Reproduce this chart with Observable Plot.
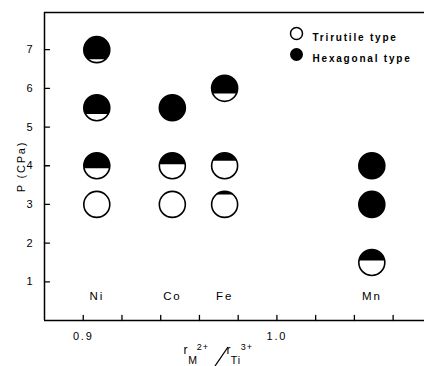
<!DOCTYPE html>
<html><head><meta charset="utf-8">
<script src="https://cdn.jsdelivr.net/npm/d3@7"></script>
<script src="https://cdn.jsdelivr.net/npm/@observablehq/plot@0.6"></script>
<style>
body{margin:0;background:#fff}
#chart svg{display:block;overflow:visible}
#chart text{letter-spacing:1.8px;fill:black}
</style>
</head><body><div id="chart"></div>
<script>
// ---- data ----
const metals = ["Ni", "Co", "Fe", "Mn"];
const radiusRatio = [0.907, 0.946, 0.973, 1.049];
const pointMetal = ["Ni","Ni","Ni","Ni","Co","Co","Co","Fe","Fe","Fe","Mn","Mn","Mn"];
const pressure   = [7, 5.5, 4, 3, 5.5, 4, 3, 6, 4, 3, 4, 3, 1.5];
const hexFraction = [0.87, 0.74, 0.6, 0, 1, 0.44, 0, 0.70, 0.31, 0.12, 1, 1, 0.42];
const yTicks = [1, 2, 3, 4, 5, 6, 7];
const xMinorTicks = [0.90, 0.92, 0.94, 0.96, 0.98, 1.00, 1.02, 1.04, 1.06];
const xLabelTicks = [0.9, 1.0];
const legendLabels = ["Trirutile type", "Hexagonal type"];
const xDomain = [0.88, 1.0762];
const yDomain = [0, 7.96];

const ratioOf = Object.fromEntries(metals.map((m, i) => [m, radiusRatio[i]]));
const points = pressure.map((p, i) => ({metal: pointMetal[i], ratio: ratioOf[pointMetal[i]], p, f: hexFraction[i]}));

// circular segment filled from the top down to fraction f of the diameter
function capSymbol(f) {
  return {
    draw(ctx, size) {
      const r = Math.sqrt(size / Math.PI);
      if (f <= 0) return;
      if (f >= 1) { ctx.moveTo(r, 0); ctx.arc(0, 0, r, 0, 2 * Math.PI); ctx.closePath(); return; }
      const y0 = -r + 2 * r * f;
      const w = Math.sqrt(Math.max(0, r * r - y0 * y0));
      let a1 = Math.atan2(y0, -w), a2 = Math.atan2(y0, w);
      if (a2 <= a1) a2 += 2 * Math.PI;
      ctx.moveTo(-w, y0);
      ctx.arc(0, 0, r, a1, a2);
      ctx.closePath();
    }
  };
}
// straight tick line for Plot.vector
const tickShape = {draw(ctx, l) { ctx.moveTo(0, 0); ctx.lineTo(0, -l); }};

const R = 13;
const font = "Liberation Sans, Arial, sans-serif";

const plot = Plot.plot({
  width: 424, height: 366,
  marginLeft: 44, marginTop: 12, marginBottom: 46, marginRight: 0,
  style: {fontFamily: font, fontSize: "11px", color: "black", background: "white"},
  x: {domain: xDomain},
  y: {domain: yDomain},
  marks: [
    Plot.ruleX([xDomain[0]], {stroke: "black", strokeWidth: 1.5}),
    Plot.ruleY([yDomain[0]], {stroke: "black", strokeWidth: 1.5}),
    Plot.ruleY([yDomain[1]], {stroke: "black", strokeWidth: 1.5}),
    Plot.vector(yTicks, {y: d => d, frameAnchor: "left", rotate: 90, length: 5, anchor: "start", shape: tickShape, stroke: "black", strokeWidth: 1.3}),
    Plot.vector(xMinorTicks, {x: d => d, frameAnchor: "bottom", rotate: 0, length: 5, anchor: "start", shape: tickShape, stroke: "black", strokeWidth: 1.3}),
    Plot.axisY({ticks: yTicks, tickSize: 0, tickPadding: 10, label: "P (CPa)", labelAnchor: "center", labelArrow: "none", labelOffset: 27, fontSize: 11}),
    Plot.axisX({ticks: xLabelTicks, tickSize: 0, tickPadding: 12, tickFormat: d3.format(".1f"), label: null, fontSize: 11}),
    Plot.dot(points, {x: "ratio", y: "p", r: R, fill: "white"}),
    ...points.filter(d => d.f > 0).map(d => Plot.dot([d], {x: "ratio", y: "p", r: R, fill: "black", symbol: capSymbol(d.f)})),
    Plot.dot(points, {x: "ratio", y: "p", r: R, stroke: "black", strokeWidth: 1.6, fill: "none"}),
    Plot.text(metals, {x: (d, i) => radiusRatio[i], frameAnchor: "bottom", dy: -21, text: d => d, fontSize: 11.5}),
    Plot.dot([legendLabels[0]], {frameAnchor: "top-right", dx: -128, dy: 21, r: 6, stroke: "black", strokeWidth: 1.5, fill: "white"}),
    Plot.dot([legendLabels[1]], {frameAnchor: "top-right", dx: -128, dy: 42, r: 6.5, fill: "black"}),
    Plot.text([legendLabels[0]], {frameAnchor: "top-right", dx: -112, dy: 21, text: d => d, textAnchor: "start", fontSize: 10, fontWeight: "bold"}),
    Plot.text([legendLabels[1]], {frameAnchor: "top-right", dx: -112, dy: 42, text: d => d, textAnchor: "start", fontSize: 10, fontWeight: "bold"})
  ]
});

// x-axis label r_M^{2+} / r_Ti^{3+}, pieces placed individually
const svg = d3.select(plot);
const g = svg.append("g").attr("font-family", font).attr("fill", "black");
const piece = (x, y, size, t) => g.append("text").attr("x", x).attr("y", y).attr("font-size", size).style("letter-spacing", "1px").text(t);
piece(186, 354, 12, "r");
piece(193, 364, 10.5, "M");
piece(203, 350, 9, "2+");
g.append("line").attr("x1", 215).attr("y1", 366).attr("x2", 228).attr("y2", 347).attr("stroke", "black").attr("stroke-width", 1.3);
piece(229, 354, 12, "r");
piece(236, 364, 10.5, "Ti");
piece(247, 350, 9, "3+");

document.getElementById("chart").append(plot);
</script>
</body></html>
